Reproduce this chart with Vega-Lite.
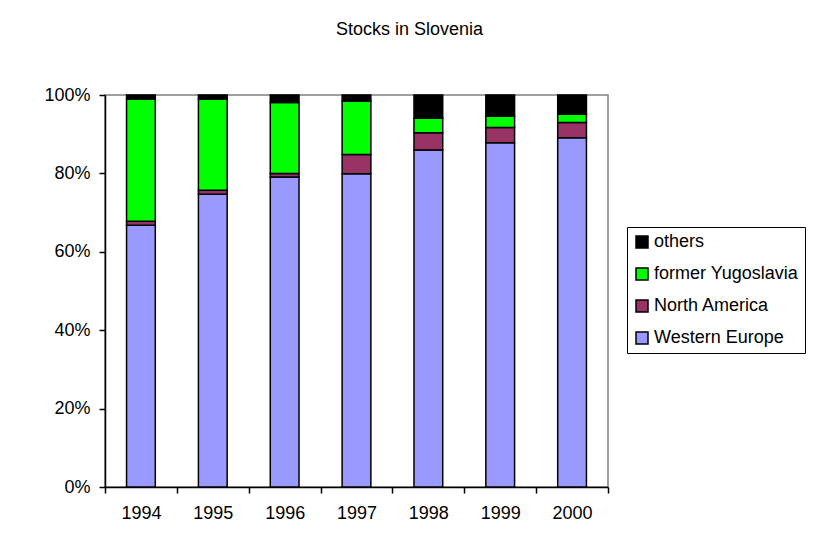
{
  "$schema": "https://vega.github.io/schema/vega-lite/v6.json",
  "width": 503,
  "height": 392,
  "autosize": {"type": "none"},
  "padding": {"left": 105, "top": 95, "right": 205, "bottom": 64},
  "background": "white",
  "title": {
    "text": "Stocks in Slovenia",
    "font": "Liberation Sans",
    "fontSize": 18,
    "fontWeight": "normal",
    "color": "black",
    "anchor": "middle",
    "dx": 53,
    "offset": 47
  },
  "config": {
    "view": {"stroke": "#808080", "strokeWidth": 1.5},
    "font": "Liberation Sans"
  },
  "data": {
    "values": [
      {"year": "1994", "region": "Western Europe", "share": 66.8},
      {"year": "1994", "region": "North America", "share": 1.0},
      {"year": "1994", "region": "former Yugoslavia", "share": 31.2},
      {"year": "1994", "region": "others", "share": 1.0},
      {"year": "1995", "region": "Western Europe", "share": 74.7},
      {"year": "1995", "region": "North America", "share": 1.0},
      {"year": "1995", "region": "former Yugoslavia", "share": 23.3},
      {"year": "1995", "region": "others", "share": 1.0},
      {"year": "1996", "region": "Western Europe", "share": 79.1},
      {"year": "1996", "region": "North America", "share": 0.9},
      {"year": "1996", "region": "former Yugoslavia", "share": 18.1},
      {"year": "1996", "region": "others", "share": 1.9},
      {"year": "1997", "region": "Western Europe", "share": 79.9},
      {"year": "1997", "region": "North America", "share": 4.9},
      {"year": "1997", "region": "former Yugoslavia", "share": 13.7},
      {"year": "1997", "region": "others", "share": 1.5},
      {"year": "1998", "region": "Western Europe", "share": 86.0},
      {"year": "1998", "region": "North America", "share": 4.4},
      {"year": "1998", "region": "former Yugoslavia", "share": 3.7},
      {"year": "1998", "region": "others", "share": 5.9},
      {"year": "1999", "region": "Western Europe", "share": 87.8},
      {"year": "1999", "region": "North America", "share": 3.9},
      {"year": "1999", "region": "former Yugoslavia", "share": 2.9},
      {"year": "1999", "region": "others", "share": 5.4},
      {"year": "2000", "region": "Western Europe", "share": 89.1},
      {"year": "2000", "region": "North America", "share": 3.9},
      {"year": "2000", "region": "former Yugoslavia", "share": 2.1},
      {"year": "2000", "region": "others", "share": 4.9}
    ]
  },
  "transform": [
    {"calculate": "indexof(['Western Europe','North America','former Yugoslavia','others'], datum.region)", "as": "stackOrder"}
  ],
  "mark": {"type": "bar", "width": {"band": 0.4}, "stroke": "black", "strokeWidth": 1.5},
  "encoding": {
    "x": {
      "field": "year",
      "type": "ordinal",
      "scale": {"paddingInner": 0, "paddingOuter": 0},
      "axis": {
        "title": null,
        "labelAngle": 0,
        "tickBand": "extent",
        "domainColor": "black",
        "domainWidth": 1.5,
        "tickColor": "black",
        "tickWidth": 1.5,
        "tickSize": 6,
        "labelPadding": 11,
        "labelFont": "Liberation Sans",
        "labelFontSize": 18,
        "labelColor": "black"
      }
    },
    "y": {
      "field": "share",
      "type": "quantitative",
      "stack": "normalize",
      "scale": {"domain": [0, 1]},
      "axis": {
        "title": null,
        "format": ".0%",
        "values": [0, 0.2, 0.4, 0.6, 0.8, 1],
        "grid": false,
        "domainColor": "black",
        "domainWidth": 1.5,
        "tickColor": "black",
        "tickWidth": 1.5,
        "tickSize": 6,
        "labelPadding": 9,
        "labelFont": "Liberation Sans",
        "labelFontSize": 18,
        "labelColor": "black"
      }
    },
    "color": {
      "field": "region",
      "type": "nominal",
      "scale": {
        "domain": ["others", "former Yugoslavia", "North America", "Western Europe"],
        "range": ["#000000", "#00FF00", "#993366", "#9999FF"]
      },
      "legend": {
        "title": null,
        "orient": "none",
        "legendX": 522,
        "legendY": 132,
        "symbolType": "square",
        "symbolSize": 144,
        "symbolStrokeColor": "black",
        "symbolStrokeWidth": 1.5,
        "labelFont": "Liberation Sans",
        "labelFontSize": 18,
        "labelColor": "black",
        "labelOffset": 3,
        "rowPadding": 14,
        "padding": 6,
        "strokeColor": "black",
        "fillColor": "white"
      }
    },
    "order": {"field": "stackOrder", "type": "quantitative"}
  }
}
